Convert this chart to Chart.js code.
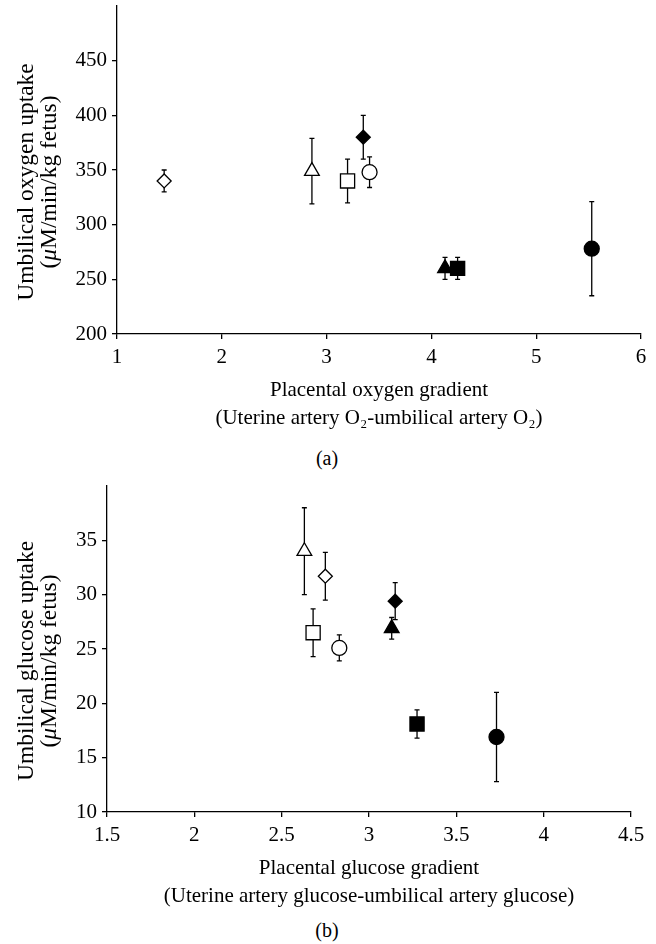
<!DOCTYPE html>
<html>
<head>
<meta charset="utf-8">
<script src="https://cdn.jsdelivr.net/npm/chart.js@4/dist/chart.umd.min.js"></script>
<style>
body{margin:0;background:#fff;width:656px;height:944px;position:relative;font-family:"Liberation Serif",serif;}
.box{position:absolute;left:0;width:656px;}
.cap{position:absolute;left:0;width:654px;text-align:center;font-size:20px;color:#000;}
</style>
</head>
<body>
<div class="box" style="top:0;height:432px"><canvas id="oxigeno"></canvas></div>
<div class="cap" style="top:447px">(a)</div>
<div class="box" style="top:470px;height:440px"><canvas id="glucosa"></canvas></div>
<div class="cap" style="top:919px">(b)</div>
<script>
// groups, same order in both panels
var grupos = ["Open diamond", "Open triangle", "Open square", "Filled diamond",
              "Open circle", "Filled triangle", "Filled square", "Filled circle"];

// (a) oxygen
var oxGradiente = [1.45, 2.86, 3.2, 3.35, 3.41, 4.13, 4.25, 5.53];
var oxCaptacion = [340, 349, 340, 380, 348, 260, 260, 278];
var oxError     = [10, 30, 20, 20, 14, 10, 10, 43];

// (b) glucose
var glGradiente = [2.75, 2.63, 2.68, 3.15, 2.83, 3.13, 3.275, 3.73];
var glCaptacion = [31.7, 34, 26.5, 29.4, 25.1, 26.9, 18.1, 16.9];
var glError     = [2.2, 4, 2.2, 1.7, 1.2, 1.0, 1.3, 4.1];

// marker styles
var formas  = ["rectRot", "triangle", "rect", "rectRot", "circle", "triangle", "rect", "circle"];
var llenos  = [false, false, false, true, false, true, true, true];
var radios  = {rectRot: 7, triangle: 8.5, rect: 10, circle: 7.5};

var FUENTE = "'Liberation Serif', serif";
Chart.defaults.font.family = FUENTE;
Chart.defaults.font.size = 21;
Chart.defaults.color = "#000";

var barras = {
  id: "barras",
  beforeDatasetsDraw: function(chart) {
    var ctx = chart.ctx, sx = chart.scales.x, sy = chart.scales.y;
    ctx.save();
    ctx.strokeStyle = "#000";
    ctx.lineWidth = 1.3;
    chart.data.datasets.forEach(function(ds) {
      var p = ds.data[0];
      var px = sx.getPixelForValue(p.x);
      var arriba = sy.getPixelForValue(p.y + p.e);
      var abajo = sy.getPixelForValue(p.y - p.e);
      ctx.beginPath();
      ctx.moveTo(px, arriba); ctx.lineTo(px, abajo);
      ctx.moveTo(px - 2.5, arriba); ctx.lineTo(px + 2.5, arriba);
      ctx.moveTo(px - 2.5, abajo); ctx.lineTo(px + 2.5, abajo);
      ctx.stroke();
    });
    ctx.restore();
  }
};

// rotated y title, the mu in italics
var tituloY = {
  id: "tituloY",
  afterDraw: function(chart, args, o) {
    var ctx = chart.ctx, ca = chart.chartArea;
    ctx.save();
    ctx.translate(0, (ca.top + ca.bottom) / 2 + 12);
    ctx.rotate(-Math.PI / 2);
    ctx.fillStyle = "#000";
    ctx.textBaseline = "alphabetic";
    ctx.textAlign = "left";
    o.lineas.forEach(function(linea, i) {
      var trozos = linea.split("\u03bc");
      var partes = [];
      trozos.forEach(function(t, k) {
        if (k > 0) partes.push({t: "\u03bc", it: true});
        if (t) partes.push({t: t, it: false});
      });
      var total = 0;
      partes.forEach(function(p) {
        ctx.font = (p.it ? "italic " : "") + "23.5px " + FUENTE;
        p.w = ctx.measureText(p.t).width;
        total += p.w;
      });
      var x = -total / 2;
      partes.forEach(function(p) {
        ctx.font = (p.it ? "italic " : "") + "23.5px " + FUENTE;
        ctx.fillText(p.t, x, o.bases[i]);
        x += p.w;
      });
    });
    ctx.restore();
  }
};

function dibujar(id, xs, ys, es, eje, padTop, padRight, anchoY) {
  var datasets = grupos.map(function(g, i) {
    return {
      label: g,
      data: [{x: xs[i], y: ys[i], e: es[i]}],
      pointStyle: formas[i],
      pointRadius: radios[formas[i]],
      backgroundColor: llenos[i] ? "#000" : "#fff",
      borderColor: "#000",
      borderWidth: 1.3
    };
  });
  return new Chart(document.getElementById(id), {
    type: "scatter",
    data: {datasets: datasets},
    options: {
      responsive: true,
      maintainAspectRatio: false,
      animation: false,
      layout: {autoPadding: false, padding: {top: padTop, right: padRight, left: 0, bottom: 0}},
      plugins: {
        legend: {display: false},
        tooltip: {enabled: false},
        tituloY: {lineas: eje.yTitulo, bases: [33, 55.5]}
      },
      scales: {
        x: {
          type: "linear", min: eje.xMin, max: eje.xMax,
          ticks: {stepSize: eje.xPaso, padding: 6, maxRotation: 0,
                  callback: function(v) { return String(Math.round(v * 10) / 10); }},
          grid: {drawOnChartArea: false, tickLength: 5, color: "#000", lineWidth: 1.3},
          border: {color: "#000", width: 1.3},
          title: {display: true, text: eje.xTitulo, font: {size: 21, lineHeight: 1.33}, padding: 0},
          afterFit: function(s) { s.height = 98; }
        },
        y: {
          type: "linear", min: eje.yMin, max: eje.yMax,
          ticks: {stepSize: eje.yPaso, padding: 5, font: {size: 21, lineHeight: 0.05}},
          afterBuildTicks: function(s) { s.ticks = s.ticks.filter(function(t) { return t.value < eje.yMax; }); },
          grid: {drawOnChartArea: false, tickLength: 5, color: "#000", lineWidth: 1.3},
          border: {color: "#000", width: 1.3},
          afterFit: function(s) { s.width = anchoY; }
        }
      }
    },
    plugins: [barras, tituloY]
  });
}

dibujar("oxigeno", oxGradiente, oxCaptacion, oxError, {
  xMin: 1, xMax: 6, xPaso: 1, yMin: 200, yMax: 500, yPaso: 50,
  xTitulo: ["Placental oxygen gradient", "(Uterine artery O\u2082-umbilical artery O\u2082)"],
  yTitulo: ["Umbilical oxygen uptake", "(\u03bcM/min/kg fetus)"]
}, 6, 15, 117);

dibujar("glucosa", glGradiente, glCaptacion, glError, {
  xMin: 1.5, xMax: 4.5, xPaso: 0.5, yMin: 10, yMax: 40, yPaso: 5,
  xTitulo: ["Placental glucose gradient", "(Uterine artery glucose-umbilical artery glucose)"],
  yTitulo: ["Umbilical glucose uptake", "(\u03bcM/min/kg fetus)"]
}, 16, 25, 107);
</script>
</body>
</html>
